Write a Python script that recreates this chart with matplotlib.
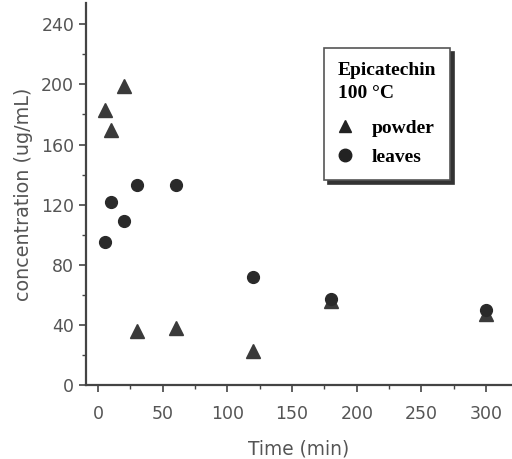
import matplotlib
matplotlib.use("Agg")
import matplotlib.pyplot as plt
from matplotlib.lines import Line2D

time_powder = [5, 10, 20, 30, 60, 120, 180, 300]
conc_powder = [183, 170, 199, 36, 38, 23, 56, 47]
time_leaves = [5, 10, 20, 30, 60, 120, 180, 300]
conc_leaves = [95, 122, 109, 133, 133, 72, 57, 50]
xticks = [0, 50, 100, 150, 200, 250, 300]
yticks = [0, 40, 80, 120, 160, 200, 240]

fig = plt.figure(figsize=(5.12, 4.59), dpi=100)
ax = fig.add_axes([0.168, 0.161, 0.832, 0.832])
txtc = '#555555'
ax.plot(time_powder, conc_powder, '^', color='#3a3a3a', markersize=9.5, linestyle='none')
ax.plot(time_leaves, conc_leaves, 'o', color='#2a2a2a', markersize=8.5, linestyle='none')

ax.set_xlim(-9.3, 320)
ax.set_ylim(0, 254)
ax.set_xticks(xticks)
ax.set_yticks(yticks)
ax.set_xticks([25, 75, 125, 175, 225, 275], minor=True)
ax.set_yticks([20, 60, 100, 140, 180, 220], minor=True)
for s in ['top', 'right']:
    ax.spines[s].set_visible(False)
for s in ['left', 'bottom']:
    ax.spines[s].set_color('#444444')
    ax.spines[s].set_linewidth(1.6)
ax.tick_params(which='major', direction='out', length=5, width=1.2, colors='#444444', labelcolor=txtc, labelsize=12.5)
ax.tick_params(axis='x', which='major', pad=9)
ax.tick_params(which='minor', direction='out', length=3, width=1, colors='#444444')
ax.set_xlabel('Time (min)', fontsize=13.4, color=txtc, labelpad=12)
ax.set_ylabel('concentration (ug/mL)', fontsize=13.8, color=txtc, labelpad=6)

handles = [Line2D([], [], marker='^', color='#222222', linestyle='none', markersize=9),
           Line2D([], [], marker='o', color='#222222', linestyle='none', markersize=9)]
leg = ax.legend(handles, ['powder', 'leaves'], title='Epicatechin\n100 °C',
                loc='upper left', bbox_to_anchor=(0.559, 0.882), borderaxespad=0,
                prop={'family': 'Liberation Serif', 'weight': 'bold', 'size': 14},
                title_fontproperties={'family': 'Liberation Serif', 'weight': 'bold', 'size': 14},
                fancybox=False, edgecolor='#555555', framealpha=1,
                shadow={'color': '#333333', 'alpha': 1, 'ox': 3, 'oy': -3},
                handlelength=0.75, handletextpad=1.0, labelspacing=0.6, borderpad=0.7)
leg._legend_box.align = 'left'
leg._legend_box.sep = 12
leg.get_title().set_linespacing(1.5)
leg.get_frame().set_linewidth(1.2)

fig.savefig('out.png', dpi=100)
